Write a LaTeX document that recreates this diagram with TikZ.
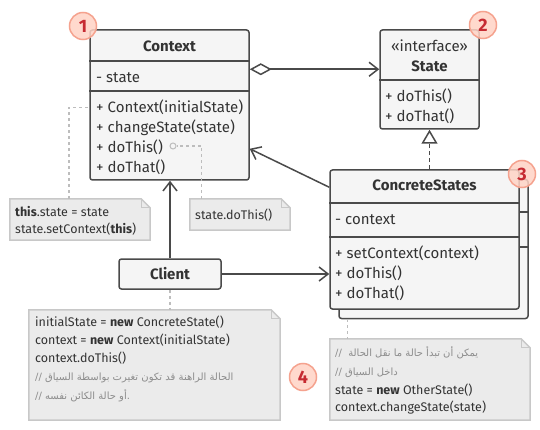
\documentclass[tikz,border=0pt]{standalone}
\usepackage{fontspec}
\setmainfont{Fira Sans}
\newfontfamily\arabicfont[Script=Arabic]{DejaVu Sans}
\TeXXeTstate=1
\usepackage{xcolor}
\usetikzlibrary{arrows.meta}

\definecolor{boxline}{HTML}{4A4A4A}
\definecolor{boxfill}{HTML}{F5F5F5}
\definecolor{ink}{HTML}{333333}
\definecolor{notefill}{HTML}{EBEBEB}
\definecolor{noteedge}{HTML}{C8C8C8}
\definecolor{hintgray}{HTML}{BDBDBD}
\definecolor{arabicgray}{HTML}{8C8C8C}
\definecolor{badgefill}{HTML}{FFD3C5}
\definecolor{badgeedge}{HTML}{F5A28E}
\definecolor{badgeink}{HTML}{C62B32}

\newcommand{\boxfont}{\fontsize{15}{18}\selectfont}
\newcommand{\notefont}{\fontsize{12.5}{15}\selectfont}
\newcommand{\arfont}{\arabicfont\fontsize{10}{12}\selectfont\color{arabicgray}}
\newcommand{\dogear}[1]{
    \fill[white] ([xshift=-9pt]#1.north east) -- (#1.north east) -- ([yshift=-9pt]#1.north east) -- cycle;
    \draw[noteline] (#1.north west) -- ([xshift=-9pt]#1.north east) -- ([yshift=-9pt]#1.north east)
        -- (#1.south east) -- (#1.south west) -- cycle;
    \draw[noteline, line width=1pt] ([xshift=-9pt]#1.north east) |- ([yshift=-9pt]#1.north east);
}

\begin{document}
\begin{tikzpicture}[x=1pt, y=-1pt,
        umlbox/.style={draw=boxline, fill=boxfill, line width=1.5pt, rounded corners=2.5pt, inner sep=0pt},
        part/.style={draw=boxline, line width=1.5pt},
        title/.style={font=\boxfont\bfseries, text=ink, inner sep=0pt},
        member/.style={font=\boxfont, text=ink, anchor=west, inner sep=0pt, text height=10pt, text depth=0pt},
        notebox/.style={fill=notefill, inner sep=0pt},
        noteline/.style={draw=noteedge, line width=1.5pt},
        notetext/.style={font=\notefont, text=ink, anchor=west, inner sep=0pt, text height=9pt, text depth=0pt},
        arabictext/.style={font=\arfont, anchor=west, inner sep=0pt, text height=7pt, text depth=0pt},
        link/.style={draw=boxline, line width=1.5pt},
        opens/.style={-{Straight Barb[length=9pt, width=14pt]}},
        hint/.style={draw=hintgray, line width=1.2pt, dash pattern=on 3pt off 3pt},
        badge/.style={circle, draw=badgeedge, fill=badgefill, fill opacity=0.85, text opacity=1,
            line width=1.5pt, minimum size=27pt, inner sep=0pt,
            font=\fontsize{18}{18}\selectfont\bfseries, text=badgeink}]

        \fill[white] (0,0) rectangle (540,430);

        % Notes
        \node[notebox, minimum width=140pt, minimum height=41pt] (ctxnote) at (80,219.5) {};
        \dogear{ctxnote}
        \node[notetext] (ctxnote-1) at (15,212) {\textbf{this}.state = state};
        \node[notetext] (ctxnote-2) at (15,229) {state.setContext(\textbf{this})};

        \node[notebox, minimum width=100pt, minimum height=31pt] (dothisnote) at (240,214.5) {};
        \dogear{dothisnote}
        \node[notetext] (dothisnote-1) at (195,215) {state.doThis()};

        \node[notebox, minimum width=251pt, minimum height=110pt] (clientnote) at (154.5,365) {};
        \dogear{clientnote}
        \node[notetext] (clientnote-1) at (35,322) {initialState = \textbf{new} ConcreteState()};
        \node[notetext] (clientnote-2) at (35,340) {context = \textbf{new} Context(initialState)};
        \node[notetext] (clientnote-3) at (35,358) {context.doThis()};
        \node[arabictext] (clientnote-4) at (35,377) {\beginR الحالة الراهنة قد تكون تغيرت بواسطة السياق //\endR};
        \node[arabictext] (clientnote-5) at (35,396) {\beginR .أو حالة الكائن نفسه //\endR};

        \node[notebox, minimum width=200pt, minimum height=81pt] (statenote) at (430,379.5) {};
        \dogear{statenote}
        \node[arabictext] (statenote-1) at (335,353) {\beginR يمكن أن تبدأ حالة ما نقل الحالة ~//\endR};
        \node[arabictext] (statenote-2) at (335,372) {\beginR داخل السياق //\endR};
        \node[notetext] (statenote-3) at (335,390) {state = \textbf{new} OtherState()};
        \node[notetext] (statenote-4) at (335,407) {context.changeState(state)};

        % Context
        \node[umlbox, minimum width=159pt, minimum height=150pt] (context) at (169.5,105) {};
        \draw[part] (context.west |- 0,61) -- (context.east |- 0,61);
        \draw[part] (context.west |- 0,91) -- (context.east |- 0,91);
        \node[title] (context-name) at (169.5,46) {Context};
        \node[member] (context-state) at (96,78) {- state};
        \foreach \y/\op [count=\i] in {108/{+ Context(initialState)}, 128/{+ changeState(state)},
                148/{+ doThis()}, 168/{+ doThat()}}
            \node[member] (context-op\i) at (96,\y) {\op};
        \node[circle, draw=hintgray, line width=1pt, minimum size=6pt, inner sep=0pt] (dothis-dot) at (173,146) {};

        % State
        \node[umlbox, minimum width=99pt, minimum height=99pt] (state) at (429.5,79.5) {};
        \draw[part] (state.west |- 0,80) -- (state.east |- 0,80);
        \node[member, anchor=center] (state-stereo) at (429.5,47) {«interface»};
        \node[title] (state-name) at (429.5,66) {State};
        \node[member] (state-op1) at (385,97) {+ doThis()};
        \node[member] (state-op2) at (385,117) {+ doThat()};

        % ConcreteStates, with a second one behind
        \node[umlbox, minimum width=189pt, minimum height=139pt] (stack) at (433.5,249) {};
        \draw[part] (stack.west |- 0,212) -- (stack.east |- 0,212);
        \draw[part] (stack.west |- 0,247) -- (stack.east |- 0,247);
        \node[umlbox, minimum width=189pt, minimum height=139pt] (concrete) at (424.5,239.5) {};
        \draw[part] (concrete.west |- 0,203) -- (concrete.east |- 0,203);
        \draw[part] (concrete.west |- 0,237) -- (concrete.east |- 0,237);
        \node[title] (concrete-name) at (424.5,185) {ConcreteStates};
        \node[member] (concrete-context) at (335,220) {- context};
        \foreach \y/\op [count=\i] in {253/{+ setContext(context)}, 273/{+ doThis()}, 293/{+ doThat()}}
            \node[member] (concrete-op\i) at (335,\y) {\op};

        % Client
        \node[umlbox, minimum width=102pt, minimum height=30pt, font=\boxfont\bfseries, text=ink] (client) at (170,274) {Client};

        % dotted hints to the notes
        \coordinate (ctor-line) at ([yshift=-78pt]context.north west);
        \coordinate (stack-foot) at ([xshift=9pt]stack.south west);
        \draw[hint] ([xshift=-11pt]ctxnote.north) |- (ctor-line);
        \draw[hint] ([xshift=12pt]dothisnote.north west) |- (dothis-dot.east);
        \draw[hint] (client.south) -- (client.south |- clientnote.north);
        \draw[hint] (stack-foot) -- (stack-foot |- statenote.north);

        % arrows between classes
        \draw[link, {Diamond[open, length=22pt, width=12pt]}-{Straight Barb[length=9pt, width=14pt]}]
            ([yshift=-40pt]context.north east) -- ([yshift=-40pt]state.north west);
        \draw[link, dash pattern=on 4pt off 3pt, -{Triangle[open, length=14pt, width=16pt]}]
            (state.south |- concrete.north) -- (state.south);
        \draw[link, opens] ([yshift=-18pt]concrete.north west) -- ([yshift=32pt]context.south east);
        \draw[link, opens] (client.north) -- (client.north |- context.south);
        \draw[link, opens] (client.east) -- (client.east -| concrete.west);

        % numbered badges
        \node[badge] (badge1) at (83,26) {1};
        \node[badge] (badge2) at (483,25) {2};
        \node[badge] (badge3) at (522,174) {3};
        \node[badge] (badge4) at (303,377) {4};

    \end{tikzpicture}
\end{document}
